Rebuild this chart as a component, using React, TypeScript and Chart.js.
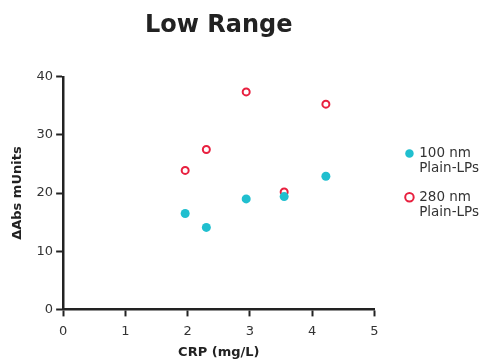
import React, { useEffect, useRef } from "react";
import { Chart, registerables } from "chart.js";

Chart.register(...registerables);

const seriesNames: string[][] = [["100 nm", "Plain-LPs"], ["280 nm", "Plain-LPs"]];
const crp100: number[] = [1.96, 2.3, 2.94, 3.55, 4.22];
const abs100: number[] = [16.5, 14.1, 19.0, 19.4, 22.9];
const crp280: number[] = [1.96, 2.3, 2.94, 3.55, 4.22];
const abs280: number[] = [23.9, 27.5, 37.4, 20.2, 35.3];
const xTicks: number[] = [0, 1, 2, 3, 4, 5];
const yTicks: number[] = [0, 10, 20, 30, 40];

const FONT = "'DejaVu Sans', Verdana, sans-serif";

const legendShift = {
  id: "legendShift",
  afterLayout(chart: any) {
    const lg = chart.legend;
    if (!lg) return;
    const dx = 18;
    lg.left += dx;
    lg.right += dx;
  },
};

export default function App() {
  const ref = useRef<HTMLCanvasElement>(null);
  useEffect(() => {
    const ctx = ref.current!;
    const chart = new Chart(ctx, {
      type: "scatter",
      data: {
        datasets: [
          {
            label: seriesNames[0] as any,
            data: crp100.map((x, i) => ({ x, y: abs100[i] })),
            backgroundColor: "#20bfcf",
            borderColor: "#20bfcf",
            pointRadius: 4.5,
            borderWidth: 0,
          },
          {
            label: seriesNames[1] as any,
            data: crp280.map((x, i) => ({ x, y: abs280[i] })),
            backgroundColor: "#ffffff",
            borderColor: "#e8203f",
            pointRadius: 3.5,
            borderWidth: 2,
          },
        ],
      },
      plugins: [legendShift],
      options: {
        animation: false,
        responsive: false,
        layout: { padding: { top: 8, left: 10, right: 8, bottom: 0 } },
        plugins: {
          title: {
            display: true,
            text: "Low Range",
            fullSize: false,
            color: "#222",
            font: { family: FONT, size: 24, weight: "bold" },
            padding: { top: 3, bottom: 37 },
          },
          legend: {
            position: "right",
            align: "center",
            labels: {
              usePointStyle: true,
              pointStyle: "circle",
              boxWidth: 6,
              boxHeight: 6,
              padding: 14,
              color: "#333",
              font: { family: FONT, size: 13.5, lineHeight: 1.1 },
              generateLabels: (c: any) =>
                c.data.datasets.map((ds: any, i: number) => ({
                  text: seriesNames[i],
                  fillStyle: ds.backgroundColor,
                  strokeStyle: ds.borderColor,
                  lineWidth: i === 0 ? 0 : 2,
                  pointStyle: "circle",
                  datasetIndex: i,
                  fontColor: "#333",
                })),
            },
          },
          tooltip: { enabled: false },
        },
        scales: {
          x: {
            type: "linear",
            min: 0,
            max: 5,
            afterBuildTicks: (s: any) => {
              s.ticks = xTicks.map((v) => ({ value: v }));
            },
            grid: { drawOnChartArea: false, tickLength: 7, tickWidth: 2, color: "#222" },
            border: { color: "#222", width: 2.5 },
            ticks: { color: "#333", font: { family: FONT, size: 13 }, padding: 7 },
            title: {
              display: true,
              text: "CRP (mg/L)",
              color: "#222",
              font: { family: FONT, size: 13, weight: "bold", lineHeight: 1.0 },
              padding: { top: 0, bottom: 0 },
            },
          },
          y: {
            type: "linear",
            min: 0,
            max: 40,
            afterBuildTicks: (s: any) => {
              s.ticks = yTicks.map((v) => ({ value: v }));
            },
            grid: { drawOnChartArea: false, tickLength: 7, tickWidth: 2, color: "#222" },
            border: { color: "#222", width: 2.5 },
            ticks: { color: "#333", font: { family: FONT, size: 13 }, padding: 3 },
            title: {
              display: true,
              text: "ΔAbs mUnits",
              color: "#222",
              font: { family: FONT, size: 13, weight: "bold" },
              padding: { top: 0, bottom: 8 },
            },
          },
        },
      },
    });
    return () => chart.destroy();
  }, []);
  return (
    <div style={{ position: "absolute", left: 0, top: 0, width: 479, height: 359, background: "#fff" }}>
      <canvas ref={ref} width={479} height={359} />
    </div>
  );
}
